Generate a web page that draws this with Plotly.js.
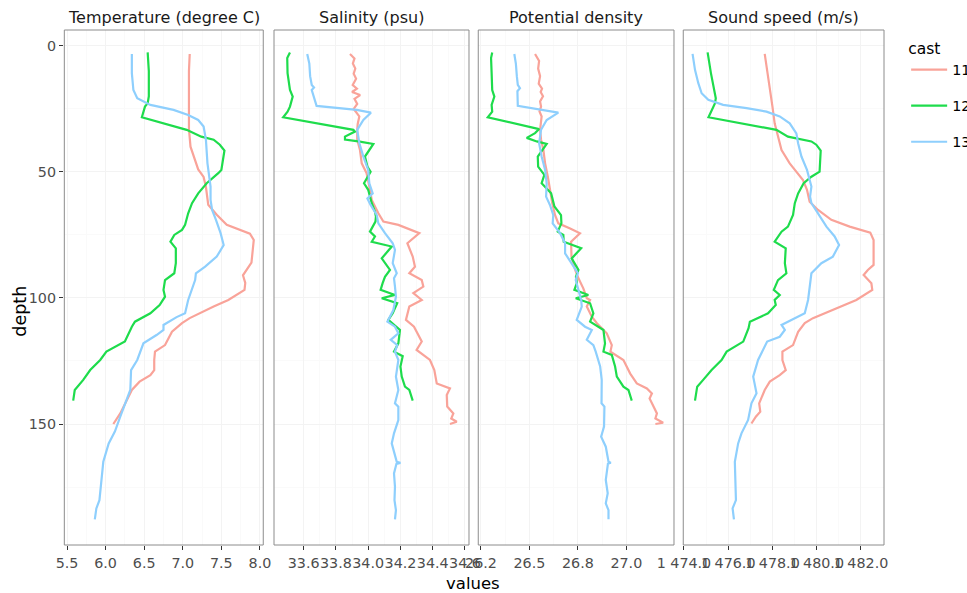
<!DOCTYPE html>
<html><head><meta charset="utf-8">
<script src="https://cdn.plot.ly/plotly-3.0.1.min.js"></script>
<style>body{margin:0;background:#fff}#chart{width:967px;height:593px}</style>
</head><body><div id="chart"></div>
<script>
var panelTitles = ["Temperature (degree C)", "Salinity (psu)", "Potential density", "Sound speed (m/s)"];
var casts = ["11", "12", "13"];
var castColors = ["#F9A399", "#1EDC4C", "#8ECFFD"];

// Temperature
var t11_d = [3.2,10,20,33,40,43.9,49,52,56,63,67,71,74.5,77,86,91,94,96.8,100.8,103.4,108,110,113.4,118.7,121.3,124.6,128.6,130.6,133.2,136.5,141.8,145.8,150];
var t11_v = [7.09,7.08,7.08,7.08,7.10,7.14,7.20,7.27,7.30,7.33,7.44,7.57,7.87,7.92,7.89,7.78,7.81,7.80,7.59,7.40,7.09,6.99,6.86,6.77,6.64,6.63,6.63,6.58,6.44,6.34,6.25,6.19,6.10];
var t12_d = [2.6,10,20,22.8,24.1,28.3,33.3,36,37.2,39.2,41.5,49.2,50.5,54.5,58.5,62.4,66.4,71,73,75,77.7,80.3,86.2,90.2,92.9,96.8,99.5,102.8,106.1,109.4,111.4,117.3,121.3,124.6,128.6,132.5,136.5,140.7];
var t12_v = [6.545,6.56,6.56,6.545,6.51,6.47,7.05,7.24,7.40,7.48,7.54,7.50,7.46,7.31,7.20,7.12,7.07,7.03,6.99,6.89,6.84,6.91,6.91,6.89,6.77,6.75,6.77,6.70,6.58,6.38,6.34,6.25,6.01,5.93,5.80,5.71,5.60,5.58];
var t13_d = [3.2,10.8,17.5,20.8,23.4,25.4,27.4,29.4,32,37.3,46.6,55.8,61.1,65.1,69,74.3,79,83.6,87.6,90.2,92.9,95.5,100.8,106.1,107.6,110.7,112.7,114.7,118,124.6,128.6,136.5,141.8,147.1,153,157.7,165,172.2,180.2,183.5,187.8];
var t13_v = [6.34,6.34,6.36,6.41,6.58,6.88,7.07,7.20,7.27,7.30,7.32,7.36,7.36,7.38,7.43,7.49,7.53,7.44,7.29,7.17,7.16,7.13,7.07,7.03,6.92,6.75,6.75,6.66,6.49,6.41,6.33,6.32,6.25,6.19,6.12,6.04,5.97,5.95,5.92,5.88,5.86];

// Salinity
var s11_d = [3.2,5,7,9,11,13,15.5,17,18.3,19.5,21,23,25,26.5,28,31,33.3,37.2,41.3,46.6,50.5,55.8,61.1,66.4,69.7,71,74.3,78.3,83.6,87.6,90.2,92.9,95.5,98.1,100.8,103.4,108.7,111.4,117.3,120.6,124.6,128.6,133.9,135.9,138.5,143.1,145.8,147.8,149.1,150];
var s11_v = [33.887,33.915,33.905,33.92,33.91,33.925,33.904,33.93,33.90,33.95,33.915,33.932,33.91,33.925,33.945,33.935,33.932,33.932,33.949,33.96,33.99,34.007,34.022,34.063,34.094,34.187,34.317,34.243,34.276,34.29,34.255,34.332,34.342,34.28,34.332,34.255,34.234,34.284,34.332,34.30,34.383,34.41,34.425,34.507,34.487,34.49,34.528,34.515,34.549,34.507];
var s12_d = [2.6,4.8,10.8,17.5,20.1,24.1,26.1,28.3,33.3,34,36,37.2,37.9,38.9,43.9,47.9,49.9,54.5,57.1,62.4,65.7,67.7,69.7,73.7,75.6,77.7,79.6,84.3,88.9,91.6,94,96.8,98.8,100.1,102.1,106.1,108.7,112.7,118,121.3,123.1,127.2,131.2,135.2,136.5,140.7];
var s12_v = [33.515,33.498,33.50,33.515,33.532,33.515,33.50,33.473,33.908,33.918,33.856,33.856,33.939,34.032,33.98,33.995,34.015,33.974,34.0,34.022,34.042,34.048,34.045,34.011,34.042,34.022,34.146,34.084,34.135,34.104,34.09,34.077,34.166,34.084,34.18,34.152,34.125,34.197,34.187,34.16,34.214,34.20,34.208,34.228,34.255,34.276];
var s13_d = [3.2,7,12,15.5,16.5,17.5,23.8,25.4,26.5,29.4,33.3,38.6,43.9,49.2,54.5,58.5,60.5,63.1,67.1,70.4,74.3,78.3,80.9,86.2,90.2,92.2,95.5,99.5,104.8,109.4,111.4,114,116.6,118.7,121.3,124.6,131.2,136.5,141.8,143.1,148.4,153.7,157.7,165,165.4,165.8,169.6,174.9,180.2,184.2,187.8];
var s13_v = [33.622,33.635,33.64,33.65,33.664,33.65,33.68,33.929,34.017,33.97,33.932,33.945,33.97,34.0,34.007,34.028,33.995,34.015,34.053,34.063,34.104,34.152,34.166,34.152,34.177,34.16,34.166,34.172,34.156,34.119,34.166,34.187,34.14,34.18,34.166,34.187,34.172,34.187,34.166,34.187,34.187,34.16,34.146,34.177,34.20,34.175,34.16,34.166,34.163,34.172,34.166];

// Potential density
var p11_d = [3.2,6,9,12,15,17,18.3,20,22,24.1,26,28,33.3,37.2,41.3,46.6,51.9,57.1,62.4,67.1,70.4,72.4,74.3,77.7,83.6,88.9,92.2,96.2,100.1,100.8,103.4,107.4,110,114,118.7,121.3,124.6,130,133.9,135.9,137.9,139.9,143.1,145.8,147.8,149.5,150];
var p11_v = [26.529,26.55,26.545,26.555,26.548,26.565,26.558,26.57,26.555,26.56,26.552,26.563,26.555,26.56,26.572,26.581,26.595,26.606,26.618,26.632,26.649,26.71,26.761,26.715,26.717,26.736,26.753,26.778,26.796,26.813,26.796,26.822,26.848,26.899,26.925,26.918,26.985,27.02,27.054,27.106,27.132,27.12,27.14,27.158,27.15,27.19,27.15];
var p12_d = [2.6,4.8,10.8,17.5,20.1,23.4,26.1,28.3,33,34.6,36.5,37.9,38.9,43.9,47.9,51.2,54.5,58.5,63.7,67.1,70.4,73.7,75,77.7,80.3,84.3,88.9,91.6,94,96.8,98.8,100.1,102.1,106.1,109.4,112.7,118,121.3,122.6,127.2,131.2,135.2,136.5,140.7];
var p12_v = [26.308,26.302,26.305,26.308,26.319,26.305,26.308,26.285,26.55,26.529,26.486,26.538,26.589,26.543,26.545,26.577,26.563,26.612,26.629,26.663,26.665,26.646,26.675,26.677,26.767,26.718,26.753,26.74,26.745,26.732,26.804,26.739,26.813,26.83,26.813,26.882,26.89,26.882,26.925,26.942,26.951,26.985,27.011,27.028];
var p13_d = [3.2,7,12,15.5,16.8,18,23.8,25.4,26.5,29.4,33.3,38.6,43.9,49.2,54.5,59.8,63.1,67.1,70.4,74.3,78.3,82.3,87.6,90.2,92.9,96.8,100.8,103.4,108.7,111.4,112.7,116.6,118.7,121.3,127.2,132.5,141.8,143.1,151,155,159,165,165.4,165.8,172.2,177.5,181.5,184.2,187.8];
var p13_v = [26.422,26.43,26.435,26.44,26.451,26.438,26.44,26.563,26.649,26.589,26.56,26.55,26.563,26.581,26.589,26.586,26.606,26.623,26.62,26.658,26.684,26.684,26.727,26.75,26.739,26.753,26.767,26.77,26.744,26.787,26.822,26.796,26.83,26.842,26.865,26.873,26.872,26.887,26.885,26.87,26.894,26.908,26.92,26.905,26.894,26.904,26.894,26.908,26.908];

// Sound speed
var c11_d = [3.2,9.5,17.5,24.1,30.7,36,41.3,46.6,50.5,53.2,57.1,61.8,65.1,69,71.7,74.1,77,86.9,88.9,90.9,94.2,96.8,100.8,103.4,108,110,113.4,118.7,121.3,124.6,128.6,130.6,133.2,136.5,141.8,145.1,147.1,149.8];
var c11_v = [1477.65,1477.76,1477.91,1478.0,1478.10,1478.25,1478.41,1478.78,1479.11,1479.38,1479.56,1479.68,1480.06,1480.66,1481.49,1482.42,1482.57,1482.57,1482.31,1482.12,1482.47,1482.51,1481.79,1481.11,1479.83,1479.46,1479.16,1478.93,1478.45,1478.45,1478.60,1478.33,1477.88,1477.65,1477.40,1477.45,1477.25,1477.05];
var c12_d = [2.6,10.8,20.8,22.8,28.3,33.3,36,37.9,39.2,41.5,49.9,51.9,54.5,58.5,62.4,67.1,71.7,73.7,77.7,80.3,86.2,90.2,92.9,96.8,98.8,100.8,102.8,106.1,109.4,112,117.3,121.3,124.6,128.6,132.5,135.2,140.7];
var c12_v = [1475.07,1475.22,1475.44,1475.40,1475.11,1478.18,1478.70,1479.76,1479.98,1480.18,1480.13,1479.76,1479.41,1479.16,1479.01,1478.93,1478.70,1478.41,1478.10,1478.60,1478.56,1478.63,1478.25,1478.06,1478.33,1478.10,1478.15,1477.80,1476.98,1476.92,1476.68,1475.93,1475.70,1475.25,1474.87,1474.60,1474.50];
var c13_d = [3.2,9.5,14.8,18.8,21.4,23.4,24.7,26.1,28,30.7,34.7,38.6,43.9,49.2,55.8,59.8,62.4,66.4,71.7,75.6,79,83.6,86.2,90.2,95.5,100.8,106.1,108,110.7,112.7,115.4,117.3,124.6,131.2,137.8,141.8,148.4,153.7,157.7,165,172.2,180.2,183.5,187.8];
var c13_v = [1474.39,1474.50,1474.65,1474.80,1475.10,1475.77,1476.83,1477.73,1478.33,1478.78,1479.08,1479.16,1479.31,1479.56,1479.76,1479.70,1479.76,1480.06,1480.44,1480.81,1481.01,1480.73,1480.21,1479.76,1479.68,1479.61,1479.46,1479.01,1478.41,1478.56,1478.33,1477.76,1477.35,1477.13,1477.28,1477.05,1476.90,1476.60,1476.45,1476.30,1476.33,1476.35,1476.20,1476.26];

// Tick labels
var tempTicks = [5.5,6.0,6.5,7.0,7.5,8.0];
var tempTickText = ["5.5","6.0","6.5","7.0","7.5","8.0"];
var salTicks = [33.6,33.8,34.0,34.2,34.4,34.6];
var salTickText = ["33.6","33.8","34.0","34.2","34.4","34.6"];
var denTicks = [26.25,26.5,26.75,27.0];
var denTickText = ["26.2","26.5","26.8","27.0"];
var sndTicks = [1474,1476,1478,1480,1482];
var sndTickText = ["1 474.0","1 476.0","1 478.0","1 480.0","1 482.0"];
var depthTicks = [0,50,100,150];
var depthTickText = ["0","50","100","150"];

var data = [
  [[t11_d,t11_v],[t12_d,t12_v],[t13_d,t13_v]],
  [[s11_d,s11_v],[s12_d,s12_v],[s13_d,s13_v]],
  [[p11_d,p11_v],[p12_d,p12_v],[p13_d,p13_v]],
  [[c11_d,c11_v],[c12_d,c12_v],[c13_d,c13_v]]
];
var tickSets = [[tempTicks,tempTickText],[salTicks,salTickText],[denTicks,denTickText],[sndTicks,sndTickText]];

// layout config
var domains = [[0.0004, 0.2430],[0.2561, 0.4939],[0.5052, 0.7439],[0.7552, 1.0]];
var ranges = [[5.465, 8.043],[33.416, 34.625],[26.236, 27.246],[1473.97, 1483.04]];
var FONT = "DejaVu Sans";
var TICKSIZE = 14.3;

var traces = [];
for (var p = 0; p < 4; p++) {
  for (var c = 0; c < 3; c++) {
    traces.push({
      type: "scatter", mode: "lines",
      x: data[p][c][1], y: data[p][c][0],
      xaxis: p === 0 ? "x" : "x" + (p + 1), yaxis: "y",
      name: casts[c], legendgroup: casts[c], showlegend: p === 0,
      line: {color: castColors[c], width: 2.2},
      hoverinfo: "x+y+name"
    });
  }
}

var layout = {
  width: 967, height: 593,
  margin: {l: 64, r: 83, t: 30, b: 48, autoexpand: false},
  paper_bgcolor: "#fff", plot_bgcolor: "#fff",
  font: {family: FONT, color: "#000"},
  showlegend: true,
  legend: {x: 1.027, y: 0.993, xanchor: "left", yanchor: "top", itemwidth: 36,
           title: {text: "cast", font: {size: 15.5, color: "#000", family: FONT}},
           font: {size: 14.3, color: "#000", family: FONT}, tracegroupgap: 14.5},
  yaxis: {range: [198, -6.3], tickvals: depthTicks, ticktext: depthTickText, ticks: "outside",
          ticklen: 4.4, tickcolor: "#333", tickfont: {size: TICKSIZE, color: "#4D4D4D"},
          showgrid: true, gridcolor: "#F3F3F3", zeroline: false, showline: false, anchor: "x",
          minor: {tickvals: [25,75,125,175], showgrid: true, gridcolor: "#FAFAFA", ticks: ""}},
  shapes: [], annotations: []
};
for (var i = 0; i < 4; i++) {
  var key = i === 0 ? "xaxis" : "xaxis" + (i + 1);
  var tv = tickSets[i][0];
  var mv = [];
  for (var k = 0; k < tv.length - 1; k++) mv.push((tv[k] + tv[k + 1]) / 2);
  layout[key] = {domain: domains[i], range: ranges[i], anchor: "y",
    tickvals: tv, ticktext: tickSets[i][1], ticks: "outside", ticklen: 4.4, tickcolor: "#333",
    tickangle: 0, tickfont: {size: TICKSIZE, color: "#4D4D4D"}, showgrid: true, gridcolor: "#F3F3F3",
    minor: {tickvals: mv, showgrid: true, gridcolor: "#FAFAFA", ticks: ""},
    zeroline: false, showline: false};
  layout.shapes.push({type: "rect", xref: "paper", yref: "paper", x0: domains[i][0], x1: domains[i][1],
    y0: 0, y1: 1, line: {color: "#8C8C8C", width: 1}, fillcolor: "rgba(0,0,0,0)", layer: "above"});
  layout.annotations.push({text: panelTitles[i], xref: "paper", yref: "paper",
    x: (domains[i][0] + domains[i][1]) / 2, xanchor: "center", y: 1, yanchor: "bottom", yshift: 1,
    showarrow: false, font: {size: 16, color: "#1A1A1A"}});
}
layout.annotations.push({text: "values", xref: "paper", yref: "paper", x: 0.499, xanchor: "center",
  y: -0.075, yanchor: "middle", showarrow: false, font: {size: 16.5, color: "#000"}});
layout.annotations.push({text: "depth", xref: "paper", yref: "paper", x: -0.0537, xanchor: "center",
  y: 0.455, yanchor: "middle", textangle: -90, showarrow: false, font: {size: 17.5, color: "#000"}});

Plotly.newPlot("chart", traces, layout, {displayModeBar: false});
</script></body></html>
